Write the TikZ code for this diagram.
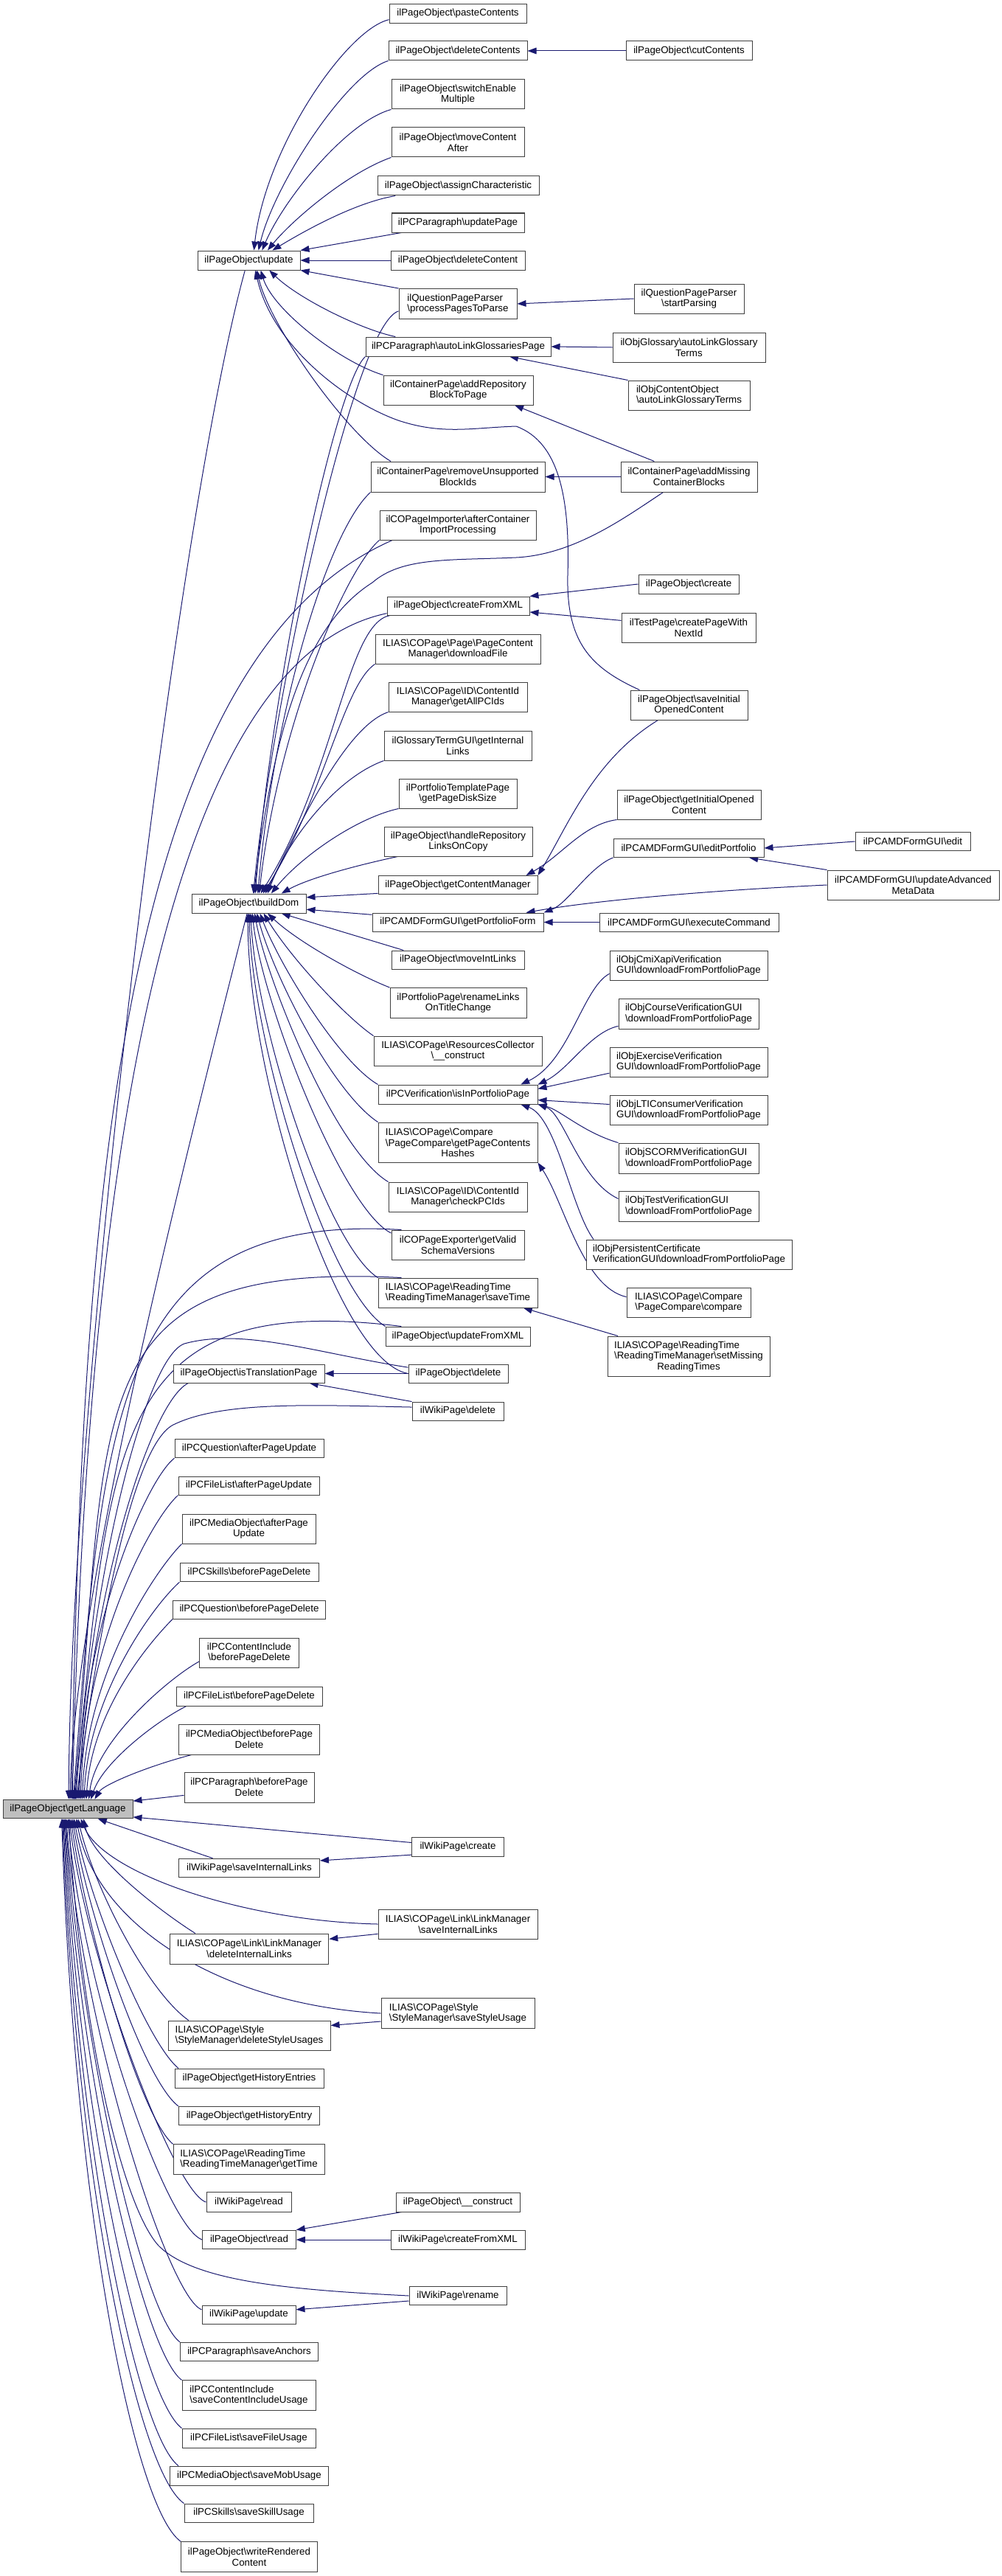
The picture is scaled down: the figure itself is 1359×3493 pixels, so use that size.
\documentclass[tikz,border=0pt]{standalone}
\usepackage{fontspec}
\setmainfont{Liberation Sans}
\usetikzlibrary{arrows.meta,backgrounds}
\definecolor{edgecol}{RGB}{25,25,112}
\definecolor{boxcol}{RGB}{64,64,64}
\definecolor{rootfill}{RGB}{191,191,191}
\newcommand{\bsl}{\textbackslash}
\newcommand{\mynode}[6][center]{\node[box,align=#1,minimum width=#4*0.75pt,minimum height=#5*0.75pt] (#2) at (#3) {#6};}
\newcommand{\lfttab}[1]{\begin{tabular}[b]{@{}l@{}}#1\end{tabular}}
\begin{document}
\begin{tikzpicture}[x=0.75pt,y=-0.75pt,
  box/.style={draw=boxcol,fill=white,line width=0.75pt,inner sep=0pt,font=\fontsize{10}{11}\selectfont},
  edg/.style={draw=edgecol,line width=0.75pt,-{Triangle[length=9pt,width=6.5pt]}}]
\useasboundingbox (0,0) rectangle (1359,3493);
% ---------- nodes ----------
\mynode{paste}{621,18.5}{186}{26}{ilPageObject\bsl pasteContents}
\mynode{delcs}{621,69}{188}{26}{ilPageObject\bsl deleteContents}
\mynode{cut}{934.5,69}{171}{26}{ilPageObject\bsl cutContents}
\mynode{switch}{621,128}{180}{40}{ilPageObject\bsl switchEnable\\Multiple}
\mynode{move}{621,193}{180}{40}{ilPageObject\bsl moveContent\\After}
\mynode{assign}{621.5,252}{219}{26}{ilPageObject\bsl assignCharacteristic}
\mynode{updpage}{621,302}{180}{26}{ilPCParagraph\bsl updatePage}
\mynode{delc}{621,353}{182}{26}{ilPageObject\bsl deleteContent}
\mynode{update}{337.5,353}{139}{26}{ilPageObject\bsl update}
\mynode[left]{qpp}{621,412}{160}{41}{ilQuestionPageParser\\\bsl processPagesToParse}
\mynode{start}{934.5,405}{149}{40}{ilQuestionPageParser\\\bsl startParsing}
\mynode{alg}{621.5,470}{251}{26}{ilPCParagraph\bsl autoLinkGlossariesPage}
\mynode{glos}{934.5,471}{207}{40}{ilObjGlossary\bsl autoLinkGlossary\\Terms}
\mynode[left]{coobj}{934.5,536}{165}{40}{ilObjContentObject\\\bsl autoLinkGlossaryTerms}
\mynode{arb}{621.5,529}{203}{40}{ilContainerPage\bsl addRepository\\BlockToPage}
\mynode{rub}{621,646.5}{236}{41}{ilContainerPage\bsl removeUnsupported\\BlockIds}
\mynode{amc}{934.5,646.5}{185}{41}{ilContainerPage\bsl addMissing\\ContainerBlocks}
\mynode{acip}{621,712}{212}{40}{ilCOPageImporter\bsl afterContainer\\ImportProcessing}
\mynode{cfx}{621.5,821.5}{193}{25}{ilPageObject\bsl createFromXML}
\mynode{create}{934,792}{136}{26}{ilPageObject\bsl create}
\mynode{cpwn}{934,851}{182}{40}{ilTestPage\bsl createPageWith\\NextId}
\mynode{dlf}{621,880}{224}{40}{ILIAS\bsl COPage\bsl Page\bsl PageContent\\Manager\bsl downloadFile}
\mynode{gapi}{621,945}{188}{40}{ILIAS\bsl COPage\bsl ID\bsl ContentId\\Manager\bsl getAllPCIds}
\mynode{sioc}{934.5,956}{159}{40}{ilPageObject\bsl saveInitial\\OpenedContent}
\mynode{gil}{621,1011}{200}{40}{ilGlossaryTermGUI\bsl getInternal\\Links}
\mynode{gpds}{621,1076}{160}{40}{ilPortfolioTemplatePage\\\bsl getPageDiskSize}
\mynode{gioc}{934.5,1091}{195}{40}{ilPageObject\bsl getInitialOpened\\Content}
\mynode{hrl}{621.5,1141}{201}{40}{ilPageObject\bsl handleRepository\\LinksOnCopy}
\mynode{editp}{934,1150}{204}{25}{ilPCAMDFormGUI\bsl editPortfolio}
\mynode{edit}{1238,1141}{156}{25}{ilPCAMDFormGUI\bsl edit}
\mynode{gcm}{621,1200}{216}{25}{ilPageObject\bsl getContentManager}
\mynode{bd}{337.5,1225}{155}{26}{ilPageObject\bsl buildDom}
\mynode{gpf}{621,1250.5}{232}{25}{ilPCAMDFormGUI\bsl getPortfolioForm}
\mynode{uamd}{1238.5,1200}{233}{40}{ilPCAMDFormGUI\bsl updateAdvanced\\MetaData}
\mynode{exec}{934.5,1250.5}{243}{25}{ilPCAMDFormGUI\bsl executeCommand}
\mynode{mil}{621,1301.5}{180}{25}{ilPageObject\bsl moveIntLinks}
\mynode{rlot}{621.5,1360}{185}{41}{ilPortfolioPage\bsl renameLinks\\OnTitleChange}
\mynode[left]{xapi}{934,1309}{214}{40}{ilObjCmiXapiVerification\\GUI\bsl downloadFromPortfolioPage}
\mynode{rc}{621,1425}{228}{40}{ILIAS\bsl COPage\bsl ResourcesCollector\\\bsl\_\_construct}
\mynode[left]{crs}{934,1374.5}{190}{41}{ilObjCourseVerificationGUI\\\bsl downloadFromPortfolioPage}
\mynode[left]{exc}{934,1440}{214}{40}{ilObjExerciseVerification\\GUI\bsl downloadFromPortfolioPage}
\mynode{iipp}{621,1484}{216}{26}{ilPCVerification\bsl isInPortfolioPage}
\mynode[left]{lti}{934,1505}{214}{40}{ilObjLTIConsumerVerification\\GUI\bsl downloadFromPortfolioPage}
\mynode{gpch}{621,1549}{216}{54}{\lfttab{ILIAS\bsl COPage\bsl Compare\\\bsl PageCompare\bsl getPageContents}\\Hashes}
\mynode[left]{scorm}{934,1570.5}{190}{41}{ilObjSCORMVerificationGUI\\\bsl downloadFromPortfolioPage}
\mynode{cpci}{621,1623}{188}{40}{ILIAS\bsl COPage\bsl ID\bsl ContentId\\Manager\bsl checkPCIds}
\mynode[left]{tst}{934,1635.5}{190}{41}{ilObjTestVerificationGUI\\\bsl downloadFromPortfolioPage}
\mynode{gvsv}{621,1688}{180}{40}{ilCOPageExporter\bsl getValid\\SchemaVersions}
\mynode[left]{pcert}{934.5,1701}{279}{40}{ilObjPersistentCertificate\\VerificationGUI\bsl downloadFromPortfolioPage}
\mynode[left]{st}{621,1753}{216}{40}{ILIAS\bsl COPage\bsl ReadingTime\\\bsl ReadingTimeManager\bsl saveTime}
\mynode{cmp}{934,1766}{168}{40}{ILIAS\bsl COPage\bsl Compare\\\bsl PageCompare\bsl compare}
\mynode{ufx}{621,1812}{196}{26}{ilPageObject\bsl updateFromXML}
\mynode{smrt}{934,1839}{220}{54}{\lfttab{ILIAS\bsl COPage\bsl ReadingTime\\\bsl ReadingTimeManager\bsl setMissing}\\ReadingTimes}
\mynode{itp}{337.5,1862.5}{205}{25}{ilPageObject\bsl isTranslationPage}
\mynode{pdel}{621.5,1862.5}{135}{25}{ilPageObject\bsl delete}
\mynode{wdel}{621,1913.5}{124}{25}{ilWikiPage\bsl delete}
\mynode{qapu}{338,1964}{202}{25.5}{ilPCQuestion\bsl afterPageUpdate}
\mynode{flapu}{337.5,2014.5}{191}{25}{ilPCFileList\bsl afterPageUpdate}
\mynode{moapu}{337.5,2073}{181}{40}{ilPCMediaObject\bsl afterPage\\Update}
\mynode{skbpd}{338,2132}{188}{25.5}{ilPCSkills\bsl beforePageDelete}
\mynode{qbpd}{338,2182.5}{207}{25}{ilPCQuestion\bsl beforePageDelete}
\mynode{cibpd}{338,2241}{135}{40}{ilPCContentInclude\\\bsl beforePageDelete}
\mynode{flbpd}{338,2300}{198}{26}{ilPCFileList\bsl beforePageDelete}
\mynode{mobpd}{338,2358.5}{191}{41}{ilPCMediaObject\bsl beforePage\\Delete}
\mynode{pbpd}{338,2423.5}{176}{41}{ilPCParagraph\bsl beforePage\\Delete}
\node[box,fill=rootfill,minimum width=176*0.75pt,minimum height=25.5*0.75pt] (gl) at (92,2453) {ilPageObject\bsl getLanguage};
\mynode{wcreate}{621,2504}{125}{26}{ilWikiPage\bsl create}
\mynode{wsil}{338,2533}{191}{25.5}{ilWikiPage\bsl saveInternalLinks}
\mynode{lmsil}{621,2609}{216}{40}{ILIAS\bsl COPage\bsl Link\bsl LinkManager\\\bsl saveInternalLinks}
\mynode{lmdil}{338,2642.5}{215.5}{41}{ILIAS\bsl COPage\bsl Link\bsl LinkManager\\\bsl deleteInternalLinks}
\mynode[left]{smssu}{621,2730}{208}{40.5}{ILIAS\bsl COPage\bsl Style\\\bsl StyleManager\bsl saveStyleUsage}
\mynode[left]{smdsu}{338,2760}{220}{40}{ILIAS\bsl COPage\bsl Style\\\bsl StyleManager\bsl deleteStyleUsages}
\mynode{ghes}{338,2818}{202}{26}{ilPageObject\bsl getHistoryEntries}
\mynode{ghe}{338,2869}{191.5}{25.5}{ilPageObject\bsl getHistoryEntry}
\mynode[left]{gt}{337.5,2928}{205}{40.5}{ILIAS\bsl COPage\bsl ReadingTime\\\bsl ReadingTimeManager\bsl getTime}
\mynode{wread}{337.5,2986}{115}{26.5}{ilWikiPage\bsl read}
\mynode{pcons}{621,2986}{168}{26}{ilPageObject\bsl\_\_construct}
\mynode{pread}{338,3037}{126.5}{25.6}{ilPageObject\bsl read}
\mynode{wcfx}{621,3037}{182}{26}{ilWikiPage\bsl createFromXML}
\mynode{wren}{621,3113}{132}{25.5}{ilWikiPage\bsl rename}
\mynode{wupd}{337.5,3138.5}{127}{25}{ilWikiPage\bsl update}
\mynode{sanc}{338,3189}{187}{25.5}{ilPCParagraph\bsl saveAnchors}
\mynode[left]{sciu}{337.5,3248}{181}{40.5}{ilPCContentInclude\\\bsl saveContentIncludeUsage}
\mynode{sfu}{337.5,3306}{181}{26}{ilPCFileList\bsl saveFileUsage}
\mynode{smu}{338,3357}{215.5}{26}{ilPCMediaObject\bsl saveMobUsage}
\mynode{ssu}{337.5,3407.5}{175}{25}{ilPCSkills\bsl saveSkillUsage}
\mynode{wrc}{338,3467}{184.5}{40.5}{ilPageObject\bsl writeRendered\\Content}
% ---------- edges ----------
\begin{scope}[on background layer]
\fill[white] (0,0) rectangle (1359,3493);
% callers of update
\draw[edg] (paste.185) .. controls (470,40) and (360,200) .. (update.63);
\draw[edg] (delcs.south west) .. controls (470,100) and (372,250) .. (update.46);
\draw[edg] (switch.south west) .. controls (470,165) and (385,270) .. (update.37);
\draw[edg] (move.south west) .. controls (470,235) and (395,300) .. (update.28);
\draw[edg] (assign.189) .. controls (480,275) and (410,315) .. (update.23);
\draw[edg] (updpage.190) -- (update.north east);
\draw[edg] (delc.west) -- (update.east);
\draw[edg] (qpp.north west) -- (update.south east);
\draw[edg] (alg.171) .. controls (490,447) and (405,405) .. (update.-26);
\draw[edg] (arb.north west) .. controls (460,490) and (370,420) .. (update.-40);
\draw[edg] (rub.167) .. controls (470,590) and (365,440) .. (update.-51);
\draw[edg] (sioc.163) .. controls (800,905) and (768,870) .. (770,780)
  .. controls (773,680) and (760,600) .. (700,578)
  .. controls (640,580) and (600,590) .. (540,570)
  .. controls (470,545) and (370,470) .. (update.-57);
\draw[edg] (cut.west) -- (delcs.east);
\draw[edg] (start.west) -- (qpp.east);
\draw[edg] (glos.west) -- (alg.east);
\draw[edg] (coobj.north west) -- (alg.-11);
\draw[edg] (amc.156) -- (arb.-15);
\draw[edg] (amc.west) -- (rub.east);
% callers of buildDom
\draw[edg] (qpp.187) .. controls (480,440) and (370,950) .. (bd.66);
\draw[edg] (alg.south west) .. controls (455,520) and (368,930) .. (bd.57);
\draw[edg] (rub.south west) .. controls (445,720) and (372,960) .. (bd.48);
\draw[edg] (acip.south west) .. controls (470,770) and (378,980) .. (bd.44);
\draw[edg] (amc.211) .. controls (850,700) and (780,752) .. (700,756)
  .. controls (610,760) and (545,755) .. (505,790)
  .. controls (410,850) and (370,1000) .. (bd.63);
\draw[edg] (cfx.188) .. controls (470,845) and (455,1050) .. (bd.40);
\draw[edg] (dlf.south west) .. controls (465,930) and (440,1080) .. (bd.35);
\draw[edg] (gapi.south west) .. controls (470,985) and (410,1110) .. (bd.31);
\draw[edg] (gil.south west) .. controls (455,1055) and (390,1140) .. (bd.28);
\draw[edg] (gpds.south west) .. controls (480,1110) and (405,1165) .. (bd.24);
\draw[edg] (hrl.194) .. controls (490,1172) and (420,1190) .. (bd.17);
\draw[edg] (gcm.186) -- (bd.6);
\draw[edg] (gpf.175) -- (bd.-6);
\draw[edg] (mil.170) -- (bd.-17);
\draw[edg] (rlot.north west) .. controls (485,1322) and (405,1278) .. (bd.-28);
\draw[edg] (rc.north west) .. controls (470,1380) and (395,1300) .. (bd.-34);
\draw[edg] (iipp.north west) .. controls (460,1440) and (380,1310) .. (bd.-42);
\draw[edg] (gpch.north west) .. controls (450,1480) and (370,1320) .. (bd.-51);
\draw[edg] (cpci.north west) .. controls (455,1560) and (362,1330) .. (bd.-60);
\draw[edg] (gvsv.170) .. controls (465,1640) and (355,1360) .. (bd.-71);
\draw[edg] (st.north west) .. controls (445,1690) and (348,1400) .. (bd.-80);
\draw[edg] (ufx.north west) .. controls (445,1750) and (342,1420) .. (bd.-88);
\draw[edg] (pdel.west) .. controls (455,1845) and (335,1450) .. (bd.-95);
% other right-hand edges
\draw[edg] (sioc.206) .. controls (805,1030) and (770,1120) .. (gcm.north east);
\draw[edg] (gioc.south west) .. controls (790,1118) and (762,1160) .. (gcm.8);
\draw[edg] (editp.south west) .. controls (800,1175) and (770,1225) .. (gpf.north east);
\draw[edg] (uamd.west) .. controls (950,1208) and (800,1222) .. (gpf.8);
\draw[edg] (exec.west) -- (gpf.east);
\draw[edg] (edit.west) -- (editp.east);
\draw[edg] (uamd.north west) -- (editp.-9);
\draw[edg] (create.west) -- (cfx.north east);
\draw[edg] (cpwn.174) -- (cfx.-5);
\draw[edg] (xapi.186) .. controls (790,1340) and (772,1440) .. (iipp.9);
\draw[edg] (crs.190) .. controls (800,1400) and (772,1450) .. (iipp.7);
\draw[edg] (exc.188) -- (iipp.4);
\draw[edg] (lti.176) -- (iipp.-4);
\draw[edg] (scorm.north west) .. controls (790,1535) and (760,1505) .. (iipp.south east);
\draw[edg] (tst.174) .. controls (785,1600) and (765,1510) .. (iipp.-7);
\draw[edg] (pcert.171) .. controls (775,1640) and (755,1515) .. (iipp.-9);
\draw[edg] (cmp.175) .. controls (790,1745) and (765,1630) .. (gpch.south east);
\draw[edg] (smrt.164) -- (st.-13);
\draw[edg] (pdel.west) -- (itp.east);
\draw[edg] (wdel.north west) -- (itp.-9);
% callers of getLanguage (from above)
\draw[edg] (update.249) .. controls (240,700) and (95,1900) .. (gl.85);
\draw[edg] (bd.260) .. controls (275,1478) and (100,2150) .. (gl.77);
\draw[edg] (acip.193) .. controls (150,900) and (110,1700) .. (gl.69);
\draw[edg] (cfx.186) .. controls (200,900) and (115,1700) .. (gl.65);
\draw[edg] (gvsv.165) .. controls (160,1645) and (140,1900) .. (gl.61);
\draw[edg] (st.165) .. controls (100,1710) and (150,1900) .. (gl.58);
\draw[edg] (ufx.170) .. controls (150,1750) and (150,1950) .. (gl.55);
\draw[edg] (pdel.173) .. controls (430,1835) and (330,1800) .. (250,1822)
  .. controls (200,1840) and (130,2100) .. (gl.52);
\draw[edg] (wdel.175) .. controls (420,1905) and (300,1900) .. (235,1932)
  .. controls (180,1960) and (135,2200) .. (gl.49);
\draw[edg] (itp.189) .. controls (205,1900) and (125,2150) .. (gl.44);
\draw[edg] (qapu.south west) .. controls (200,2005) and (112,2200) .. (gl.40);
\draw[edg] (flapu.south west) .. controls (205,2060) and (114,2230) .. (gl.37);
\draw[edg] (moapu.south west) .. controls (210,2130) and (117,2270) .. (gl.34);
\draw[edg] (skbpd.south west) .. controls (205,2180) and (120,2300) .. (gl.31);
\draw[edg] (qbpd.south west) .. controls (200,2230) and (125,2320) .. (gl.28);
\draw[edg] (cibpd.190) .. controls (230,2275) and (130,2360) .. (gl.25);
\draw[edg] (flbpd.189) .. controls (210,2335) and (140,2390) .. (gl.23);
\draw[edg] (mobpd.195) .. controls (200,2395) and (140,2420) .. (gl.20);
\draw[edg] (pbpd.187) -- (gl.7);
% callers of getLanguage (from below / right)
\draw[edg] (wcreate.175) -- (gl.-7);
\draw[edg] (wsil.165) -- (gl.-18);
\draw[edg] (wcreate.190) -- (wsil.6);
\draw[edg] (lmsil.west) .. controls (330,2605) and (140,2540) .. (gl.-37);
\draw[edg] (lmdil.164) .. controls (215,2590) and (125,2520) .. (gl.-32);
\draw[edg] (lmsil.187) -- (lmdil.7);
\draw[edg] (smssu.west) .. controls (300,2718) and (130,2610) .. (gl.-49);
\draw[edg] (smssu.186) -- (smdsu.7);
\draw[edg] (smdsu.166) .. controls (200,2700) and (128,2560) .. (gl.-44);
\draw[edg] (ghes.172) .. controls (200,2770) and (122,2580) .. (gl.-58);
\draw[edg] (ghe.north west) .. controls (195,2820) and (120,2600) .. (gl.-65);
\draw[edg] (gt.north west) .. controls (190,2870) and (118,2620) .. (gl.-73);
\draw[edg] (wread.west) .. controls (235,2972) and (115,2650) .. (gl.-81);
\draw[edg] (pread.west) .. controls (225,3020) and (113,2700) .. (gl.-90);
\draw[edg] (wren.west) .. controls (400,3105) and (265,3095) .. (215,3045)
  .. controls (165,2990) and (110,2750) .. (gl.-85);
\draw[edg] (wren.186) -- (wupd.6);
\draw[edg] (wupd.174) .. controls (228,3115) and (111,2750) .. (gl.-99);
\draw[edg] (pcons.190) -- (pread.north east);
\draw[edg] (wcfx.west) -- (pread.east);
\draw[edg] (sanc.north west) .. controls (195,3140) and (110,2780) .. (gl.-103);
\draw[edg] (sciu.north west) .. controls (195,3190) and (108,2820) .. (gl.-107);
\draw[edg] (sfu.north west) .. controls (190,3250) and (106,2860) .. (gl.-111);
\draw[edg] (smu.172) .. controls (185,3300) and (104,2900) .. (gl.-115);
\draw[edg] (ssu.north west) .. controls (185,3350) and (102,2940) .. (gl.-119);
\draw[edg] (wrc.north west) .. controls (180,3400) and (100,2980) .. (gl.-122);
\end{scope}
\end{tikzpicture}
\end{document}
